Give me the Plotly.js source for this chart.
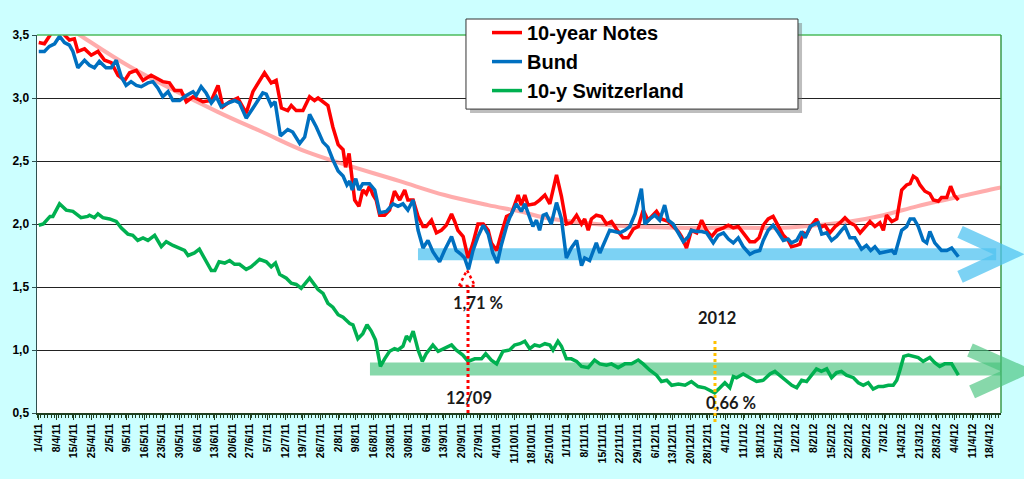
<!DOCTYPE html>
<html>
<head>
<meta charset="utf-8">
<script src="https://cdn.plot.ly/plotly-3.0.1.min.js"></script>
<style>
  html, body { margin: 0; padding: 0; background: #ccffff; }
  #plotDiv { width: 1024px; height: 479px; }
</style>
</head>
<body>
<div id="plotDiv"></div>
<script>
// weekly date labels on the business-day axis (one label every 5 trading days)
const dateLabels = ['1/4/11', '8/4/11', '15/4/11', '25/4/11', '2/5/11', '9/5/11', '16/5/11', '23/5/11', '30/5/11',
    '6/6/11', '13/6/11', '20/6/11', '27/6/11', '5/7/11', '12/7/11', '19/7/11', '26/7/11', '2/8/11', '9/8/11',
    '16/8/11', '23/8/11', '30/8/11', '6/9/11', '13/9/11', '20/9/11', '27/9/11', '4/10/11', '11/10/11', '18/10/11',
    '25/10/11', '1/11/11', '8/11/11', '15/11/11', '22/11/11', '29/11/11', '6/12/11', '13/12/11', '20/12/11',
    '28/12/11', '4/1/12', '11/1/12', '18/1/12', '25/1/12', '1/2/12', '8/2/12', '15/2/12', '22/2/12', '29/2/12',
    '7/3/12', '14/3/12', '21/3/12', '28/3/12', '4/4/12', '11/4/12', '18/4/12'];

// trading-day index / yield pairs
const notesDay = [0, 1.6, 3, 4.5, 6, 7.3, 8.7, 10.1, 11.1, 13, 14.9, 16.8, 18.7, 20.6, 22.5, 24.4, 25.8, 27.7, 29.6,
    31.9, 35.2, 37.1, 38.6, 40.4, 41.9, 43.8, 46.6, 49, 50.9, 52.3, 54.2, 56.5, 58.9, 60.8, 64.1, 66, 67.4, 68.9,
    70.7, 71.7, 73.1, 75, 76.9, 78.3, 79.3, 80.7, 82.1, 83.5, 85, 86.4, 87.1, 88.1, 88.7, 89.7, 90.9, 92, 93, 93.9,
    94.9, 95.8, 96.8, 98.2, 99.6, 101, 102.5, 103.9, 104.8, 106.3, 107.7, 109.1, 110, 111.5, 112.9, 114.3, 115.7,
    117.2, 118.1, 119, 120.5, 121.9, 123.3, 124.7, 126.2, 127.6, 128.5, 130, 131.4, 132.8, 134.2, 135.3, 136.1,
    137, 138, 138.9, 140.8, 142.2, 143.7, 145.1, 147, 148.4, 149.8, 151.2, 152.7, 154.1, 155, 156, 156.9, 158.3,
    159.8, 161.2, 162.6, 164, 165.9, 167.3, 168.8, 170.2, 171.6, 173, 174.5, 175.4, 176.8, 178.7, 180.1, 181.6,
    182.5, 183.9, 185.3, 186.8, 188.2, 189.6, 191, 192.5, 194.4, 195.8, 197.2, 198.6, 200, 201.9, 203.3, 204.5,
    205.7, 207.1, 208.5, 210, 211.4, 212.8, 213.7, 215.2, 216.1, 217.1, 218, 219.4, 220.8, 221.8, 223.2, 224.6,
    226.1, 227.5, 228.9, 230.3, 231.7, 233.2, 234.6, 236, 237.4, 238.8, 239.8, 240.7, 242.2, 243.6, 245, 246.4,
    247.4, 248.3, 249.3, 250.2, 251.6, 253, 254, 255.4, 256.3, 257.8, 258.9, 259.9, 261.1];
const notesYield = [3.44, 3.43, 3.49, 3.56, 3.58, 3.50, 3.46, 3.47, 3.37, 3.39, 3.34, 3.37, 3.30, 3.28, 3.18, 3.14,
    3.20, 3.22, 3.14, 3.18, 3.13, 3.12, 3.06, 3.06, 2.97, 3.01, 2.97, 2.98, 3.10, 2.93, 2.97, 3.00, 2.88, 3.05, 3.20,
    3.12, 3.14, 2.92, 2.90, 2.94, 2.90, 2.90, 3.01, 2.98, 3.00, 2.97, 2.94, 2.77, 2.63, 2.59, 2.45, 2.56, 2.43, 2.19,
    2.14, 2.27, 2.24, 2.30, 2.23, 2.19, 2.07, 2.07, 2.11, 2.26, 2.19, 2.27, 2.19, 2.19, 2.06, 1.98, 1.98, 2.03, 1.93,
    1.95, 1.99, 2.08, 2.02, 1.95, 1.90, 1.73, 1.85, 2.00, 2.00, 1.95, 1.85, 1.79, 1.93, 2.06, 2.08, 2.18, 2.23, 2.15,
    2.23, 2.15, 2.16, 2.19, 2.23, 2.16, 2.39, 2.22, 2.00, 2.01, 2.07, 2.00, 2.04, 1.95, 2.04, 2.07, 2.06, 2.00, 2.02,
    1.96, 1.89, 1.89, 1.96, 1.98, 2.11, 2.03, 2.08, 2.10, 2.04, 2.02, 1.98, 1.94, 1.90, 1.81, 1.95, 1.93, 2.03, 1.95,
    1.90, 1.95, 1.97, 1.99, 1.97, 1.98, 1.93, 1.86, 1.86, 1.89, 1.99, 2.04, 2.06, 1.98, 1.91, 1.87, 1.82, 1.83, 1.84,
    1.93, 1.92, 1.99, 2.04, 1.97, 1.99, 1.93, 1.98, 2.01, 2.05, 2.01, 1.99, 1.93, 1.98, 2.02, 1.98, 2.01, 1.95, 2.07,
    2.02, 2.04, 2.27, 2.31, 2.32, 2.38, 2.36, 2.31, 2.26, 2.24, 2.19, 2.18, 2.21, 2.21, 2.30, 2.23, 2.19];

const bundDay = [0, 1.6, 3, 4.5, 5.9, 7.3, 8.7, 9.7, 11.1, 13, 14.4, 15.8, 17.2, 19.1, 20.6, 22, 23.4, 24.8, 26.2,
    27.7, 29.1, 31, 32.4, 33.8, 35.2, 36.7, 38.1, 40, 41.9, 43.8, 44.7, 46.1, 47.5, 49, 50.4, 51.8, 53.7, 55.6, 57,
    58.9, 61.3, 63.6, 64.6, 66, 67.1, 68.6, 70.7, 72.1, 74.1, 75.5, 76.9, 78.8, 80.7, 82.1, 83.5, 85, 86.4, 87.5,
    88.3, 89, 90, 90.9, 92, 93.9, 95.4, 96.8, 98.7, 100.6, 102, 103.4, 104.8, 106.3, 107.7, 109.1, 110.5, 111.9,
    113.8, 115.2, 117.2, 118.5, 119.9, 120.9, 122, 123.3, 124.7, 126.2, 127.6, 128.9, 130.2, 131.4, 132.8, 133.7,
    135.6, 137, 138, 139.4, 140.3, 141.3, 142.2, 143.2, 144.1, 145.5, 147, 148.4, 149.8, 151.2, 152.7, 154.1, 155,
    156.4, 158.3, 159.3, 160.7, 162.1, 163.5, 165, 166.4, 167.8, 169.3, 170.2, 171.1, 172.1, 173.5, 174.9, 176.3,
    177.7, 178.7, 180.1, 181.6, 183, 184.4, 185.3, 186.8, 188.2, 189.6, 191.5, 192.9, 194.4, 195.8, 197.2, 198.6,
    200, 201.9, 203.3, 204.7, 205.7, 207.1, 208.5, 210, 211.4, 212.8, 213.7, 215.2, 216.6, 217.6, 219, 220.4, 221.3,
    222.3, 223.7, 225.1, 226.5, 227.9, 228.9, 230.3, 231.7, 233.6, 235, 236.2, 237.4, 238.8, 240.7, 242.2, 243.1,
    244.1, 245, 246.4, 247.4, 248.5, 249.7, 251.1, 252.1, 253, 254.4, 256.3, 257.8, 259.2, 261.1];
const bundYield = [3.37, 3.37, 3.41, 3.43, 3.49, 3.44, 3.42, 3.37, 3.24, 3.30, 3.26, 3.24, 3.29, 3.24, 3.24, 3.30,
    3.17, 3.10, 3.13, 3.10, 3.09, 3.12, 3.13, 3.08, 3.01, 3.05, 2.98, 2.98, 3.02, 3.05, 3.02, 3.09, 3.04, 2.96, 3.01,
    2.93, 2.96, 2.98, 2.96, 2.84, 2.94, 3.04, 3.03, 2.94, 2.97, 2.70, 2.75, 2.73, 2.64, 2.69, 2.87, 2.77, 2.65, 2.61,
    2.51, 2.42, 2.38, 2.31, 2.34, 2.27, 2.36, 2.27, 2.32, 2.32, 2.27, 2.09, 2.10, 2.16, 2.14, 2.16, 2.11, 2.19, 1.95,
    1.81, 1.87, 1.78, 1.70, 1.79, 1.90, 1.79, 1.76, 1.73, 1.64, 1.79, 1.90, 1.99, 1.92, 1.77, 1.69, 1.84, 1.98, 2.05,
    2.16, 2.10, 2.16, 2.05, 1.98, 2.03, 1.95, 2.07, 2.08, 2.00, 2.17, 2.04, 1.73, 1.81, 1.87, 1.67, 1.73, 1.71, 1.85,
    1.77, 1.86, 1.95, 1.94, 1.93, 1.95, 1.98, 2.08, 2.19, 2.28, 2.00, 2.04, 2.07, 2.03, 2.15, 2.03, 2.00, 1.93, 1.86,
    1.90, 1.95, 1.94, 1.94, 1.93, 1.85, 1.91, 1.93, 1.88, 1.85, 1.89, 1.82, 1.76, 1.78, 1.79, 1.87, 1.95, 1.99, 1.93,
    1.87, 1.88, 1.85, 1.87, 1.94, 1.89, 1.98, 2.00, 2.01, 1.92, 1.93, 1.87, 1.90, 1.95, 1.98, 1.89, 1.89, 1.80, 1.83,
    1.79, 1.82, 1.77, 1.78, 1.79, 1.76, 1.85, 1.95, 1.98, 2.04, 2.04, 1.98, 1.87, 1.85, 1.94, 1.85, 1.79, 1.79, 1.81,
    1.74];

const swissDay = [0, 1.3, 3.2, 4, 5.9, 7.8, 9.7, 10.6, 12, 13.9, 14.4, 15.8, 16.8, 18.2, 20.1, 22, 23.4, 25.3, 26.7,
    28.1, 29.6, 31, 32.9, 34.8, 36.2, 38.1, 40, 41.4, 42.4, 44.2, 45.6, 47.1, 49, 50, 51.2, 52.8, 54.2, 55.6, 57,
    58.9, 60.3, 62.7, 64.6, 66, 67.2, 68.4, 70.3, 71.7, 73.1, 74.5, 76.9, 79.3, 80.7, 82.1, 83.5, 85, 86.4, 88.3,
    89.2, 90.6, 92, 93.2, 94.4, 95.6, 97, 98.2, 99.6, 101, 102, 103.4, 104.4, 105.3, 106.3, 107.7, 108.9, 110, 111.9,
    113.4, 114.8, 117.2, 118.5, 120.4, 121.9, 123.8, 125.7, 126.9, 128.5, 130, 131.8, 133.7, 135.1, 136.6, 138,
    139.4, 140.8, 142.2, 143.7, 145.1, 146, 147.4, 148.4, 149.8, 151.2, 152.7, 154.1, 156, 157.8, 159.3, 161.2,
    162.6, 164.5, 166.4, 168.3, 170.2, 171.6, 173.5, 175.4, 176.8, 178.3, 179.7, 181.6, 183.5, 185.3, 187.2, 189.1,
    190.5, 191.9, 193.4, 194.8, 196.2, 197.2, 198.1, 200, 201.9, 203.8, 205.7, 207.6, 209, 210.4, 211.9, 213.8,
    215.2, 216.6, 218, 219.4, 220.8, 222.2, 223.7, 225.1, 226.5, 227.9, 229.3, 231.3, 232.7, 234.1, 235.5, 236.9,
    238.4, 239.8, 241.2, 242.6, 243.6, 244.5, 245.6, 246.9, 248.3, 249.7, 251.1, 252.1, 253, 254.4, 255.8, 257.2,
    259.2, 261.1];
const swissYield = [1.99, 2.00, 2.06, 2.06, 2.16, 2.11, 2.10, 2.08, 2.05, 2.06, 2.07, 2.05, 2.08, 2.05, 2.04, 2.02,
    1.97, 1.92, 1.91, 1.87, 1.89, 1.87, 1.91, 1.82, 1.86, 1.83, 1.81, 1.79, 1.75, 1.77, 1.80, 1.72, 1.63, 1.63, 1.70,
    1.69, 1.71, 1.68, 1.68, 1.64, 1.66, 1.72, 1.70, 1.66, 1.69, 1.60, 1.57, 1.53, 1.52, 1.49, 1.57, 1.48, 1.45, 1.37,
    1.34, 1.28, 1.26, 1.21, 1.20, 1.09, 1.13, 1.20, 1.15, 1.08, 0.87, 0.93, 0.99, 1.01, 1.00, 1.03, 1.11, 1.08, 1.15,
    1.00, 0.91, 0.97, 1.04, 0.99, 1.01, 1.04, 1.00, 0.96, 0.91, 0.93, 0.93, 0.97, 0.92, 0.89, 0.99, 1.00, 1.04, 1.05,
    1.07, 1.01, 1.04, 1.03, 1.05, 1.04, 1.00, 1.07, 1.03, 0.93, 0.93, 0.91, 0.87, 0.86, 0.92, 0.89, 0.88, 0.89, 0.86,
    0.89, 0.89, 0.92, 0.89, 0.84, 0.80, 0.75, 0.76, 0.72, 0.73, 0.72, 0.75, 0.71, 0.70, 0.68, 0.66, 0.70, 0.74, 0.70,
    0.79, 0.78, 0.81, 0.78, 0.75, 0.76, 0.81, 0.83, 0.80, 0.76, 0.72, 0.70, 0.76, 0.75, 0.80, 0.85, 0.83, 0.85, 0.78,
    0.82, 0.83, 0.80, 0.78, 0.74, 0.72, 0.74, 0.69, 0.71, 0.71, 0.72, 0.72, 0.76, 0.84, 0.95, 0.96, 0.95, 0.94, 0.91,
    0.93, 0.94, 0.90, 0.87, 0.89, 0.89, 0.80];

// the pink trend curve through the 10-year notes
const trendDay = [5, 11.6, 25.8, 50.8, 63.5, 76.3, 102.5, 115.2, 127.6, 136.6, 143.7, 162.6, 181, 200, 211.4, 220.8,
    230.3, 239.8, 249.3, 258.7, 268.2, 273.2];
const trendYield = [3.62, 3.50, 3.25, 2.89, 2.73, 2.57, 2.34, 2.23, 2.15, 2.10, 2.05, 1.99, 1.97, 1.97, 1.97, 1.99,
    2.02, 2.07, 2.14, 2.20, 2.26, 2.29];

const bundFloor = 1.76;
const swissFloor = 0.85;

const boldFont = {family: 'Liberation Sans, Arial, sans-serif', color: '#000', weight: 700};
const noteFont = {family: 'Lato, sans-serif', size: 16.5, color: '#1a1a1a', weight: 700};

const data = [
    {
        x: trendDay, y: trendYield, mode: 'lines', type: 'scatter', showlegend: false, hoverinfo: 'skip',
        line: {color: 'rgba(255, 90, 90, 0.5)', width: 4, shape: 'spline'}
    },
    {
        name: '10-year Notes', x: notesDay, y: notesYield, mode: 'lines', type: 'scatter',
        line: {color: '#ff0000', width: 3.5}
    },
    {
        name: 'Bund', x: bundDay, y: bundYield, mode: 'lines', type: 'scatter',
        line: {color: '#0070c0', width: 3.5}
    },
    {
        name: '10-y Switzerland', x: swissDay, y: swissYield, mode: 'lines', type: 'scatter',
        line: {color: '#00b050', width: 3.5}
    }
];

// small helper for the text notes on the chart
function note(x, y, text) {
    return {xref: 'paper', yref: 'paper', x: x, y: y, xanchor: 'center', yanchor: 'middle',
        text: text, showarrow: false, font: noteFont};
}

const layout = {
    width: 1024,
    height: 479,
    paper_bgcolor: '#ccffff',
    plot_bgcolor: '#ffffff',
    separators: ',.',
    margin: {l: 37, r: 23, t: 35, b: 66, autoexpand: false},
    xaxis: {
        range: [-0.5, 273.2],
        tickmode: 'array',
        tickvals: dateLabels.map((d, i) => i * 5),
        ticktext: dateLabels,
        tickangle: -90,
        tickfont: Object.assign({size: 10.5}, boldFont),
        ticks: 'outside',
        ticklen: 5,
        tickcolor: '#1f3f1f',
        minor: {tick0: -0.5, dtick: 1, ticks: 'outside', ticklen: 3, tickcolor: '#1f3f1f'},
        showgrid: false,
        showline: true,
        linecolor: '#1f3f1f',
        linewidth: 1.5,
        zeroline: false,
        fixedrange: true
    },
    yaxis: {
        range: [0.5, 3.5],
        tickvals: [0.5, 1, 1.5, 2, 2.5, 3, 3.5],
        tickformat: '.1f',
        tickfont: Object.assign({size: 12}, boldFont),
        ticks: 'outside',
        ticklen: 4,
        tickcolor: '#2f4f4f',
        showgrid: true,
        gridcolor: '#222',
        gridwidth: 1,
        showline: true,
        linecolor: '#2f4f4f',
        linewidth: 1.5,
        zeroline: false,
        fixedrange: true
    },
    legend: {
        x: 0.4668, y: 1.058, xanchor: 'left', yanchor: 'top',
        bgcolor: 'rgba(0,0,0,0)', borderwidth: 0,
        font: Object.assign({size: 20}, boldFont),
        tracegroupgap: 0
    },
    shapes: [
        // plot frame top / right
        {type: 'line', xref: 'paper', yref: 'paper', x0: 0, x1: 1, y0: 1, y1: 1, line: {color: '#4cbb5c', width: 1.5}},
        {type: 'line', xref: 'paper', yref: 'paper', x0: 1, x1: 1, y0: 0, y1: 1, line: {color: '#3a9a4a', width: 1.5}},
        // floors with arrows
        {type: 'line', layer: 'between', xref: 'paper', yref: 'y', x0: 0.3952, x1: 0.995, y0: bundFloor, y1: bundFloor,
            line: {color: 'rgba(80, 195, 240, 0.75)', width: 12}},
        {type: 'path', xref: 'paper', yref: 'paper', path: 'M0.9575,0.479 L1.0083,0.42 L0.9575,0.36',
            line: {color: 'rgba(80, 195, 240, 0.75)', width: 13}},
        {type: 'line', layer: 'between', xref: 'paper', yref: 'y', x0: 0.3454, x1: 1.0, y0: swissFloor, y1: swissFloor,
            line: {color: 'rgba(70, 195, 125, 0.65)', width: 13}},
        {type: 'path', xref: 'paper', yref: 'paper', path: 'M0.9678,0.1667 L1.0176,0.111 L0.97,0.0556',
            line: {color: 'rgba(70, 195, 125, 0.65)', width: 14}},
        // red marker for the Bund low
        {type: 'line', xref: 'paper', yref: 'paper', x0: 0.4471, x1: 0.4471, y0: 0, y1: 0.336,
            line: {color: '#ff0000', width: 3, dash: 'dot'}},
        {type: 'path', xref: 'paper', yref: 'paper', path: 'M0.4378,0.336 L0.4461,0.378 L0.4544,0.336 Z',
            line: {color: '#ff0000', width: 2.5, dash: 'dot'}},
        // orange marker for the start of 2012
        {type: 'line', xref: 'paper', yref: 'paper', x0: 0.7033, x1: 0.7033, y0: -0.024, y1: 0.198,
            line: {color: '#ffc000', width: 3, dash: 'dot'}},
        // legend box with shadow
        {type: 'rect', xref: 'paper', yref: 'paper', x0: 0.4492, x1: 0.7936, y0: 0.7937, y1: 1.0317,
            fillcolor: 'rgba(110,110,110,0.45)', line: {width: 0}},
        {type: 'rect', xref: 'paper', yref: 'paper', x0: 0.445, x1: 0.7894, y0: 0.804, y1: 1.0423,
            fillcolor: '#ffffff', line: {color: '#333', width: 1}}
    ],
    annotations: [
        note(0.4575, 0.291, '1,71 %'),
        note(0.448, 0.0397, '12/09'),
        note(0.7054, 0.2513, '2012'),
        note(0.72, 0.0265, '0,66 %')
    ]
};

Plotly.newPlot('plotDiv', data, layout, {staticPlot: true});
</script>
</body>
</html>
